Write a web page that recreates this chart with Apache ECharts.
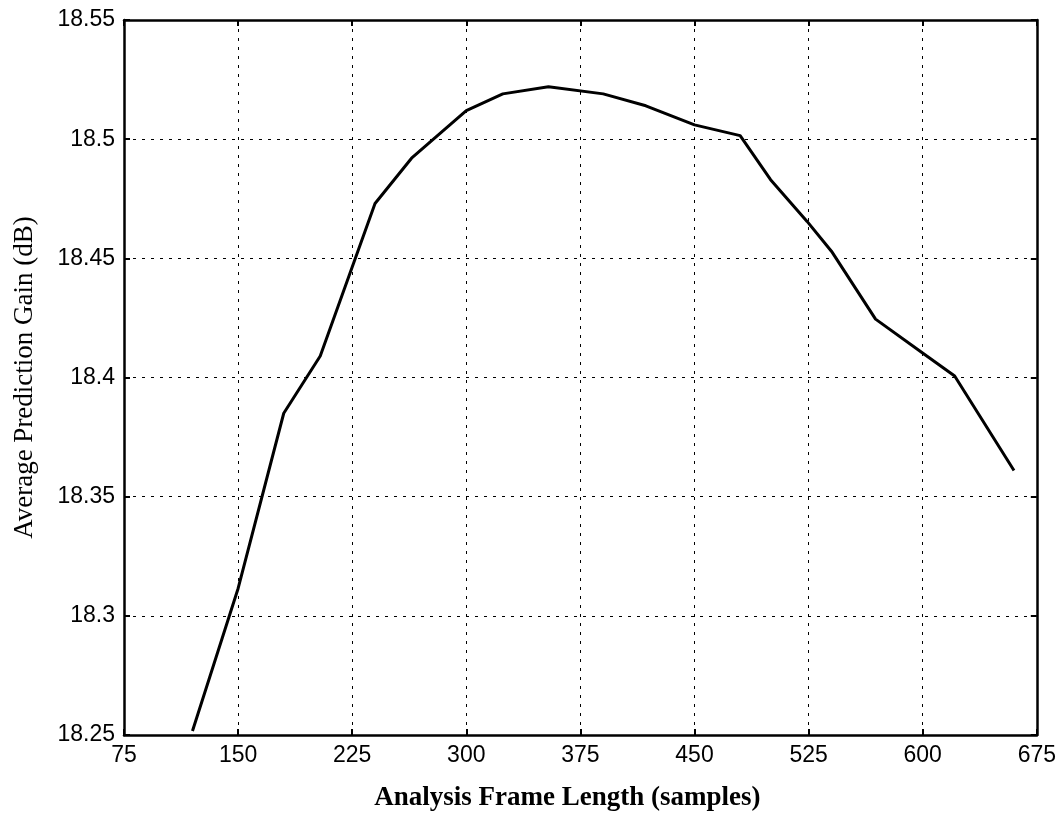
<!DOCTYPE html>
<html>
<head>
<meta charset="utf-8">
<script src="https://cdn.jsdelivr.net/npm/echarts@6/dist/echarts.min.js"></script>
<style>
  html, body { margin: 0; padding: 0; background: #fff; }
  #chart { width: 1059px; height: 817px; }
</style>
</head>
<body>
<div id="chart"></div>
<script>
// Analysis frame length (samples) and the resulting average prediction gain (dB)
const frameLengths = [120, 150, 180, 204, 240, 264, 300, 324, 354, 390, 418, 450, 480, 500, 524, 540, 569, 599, 621, 660];
const predictionGain = [18.2517, 18.3115, 18.385, 18.409, 18.473, 18.492, 18.512, 18.519, 18.522, 18.519, 18.514, 18.506, 18.5015, 18.483, 18.4655, 18.453, 18.4245, 18.4107, 18.4006, 18.361];

// Axis tick labels
const xTickLabels = ['75', '150', '225', '300', '375', '450', '525', '600', '675'];
const yTickLabels = ['18.25', '18.3', '18.35', '18.4', '18.45', '18.5', '18.55'];

const xTitle = 'Analysis Frame Length (samples)';
const yTitle = 'Average Prediction Gain (dB)';

const chart = echarts.init(document.getElementById('chart'), null, { renderer: 'canvas' });

const tickFont = { color: '#000', fontFamily: 'Liberation Sans, Arial, sans-serif', fontSize: 23 };
const gridLine = { show: true, lineStyle: { color: '#000', width: 1, type: [3, 6] } };
const frameLine = { show: true, onZero: false, lineStyle: { color: '#000', width: 2.5 } };
const innerTick = { show: true, inside: true, length: 6, lineStyle: { color: '#000', width: 2 } };

function xLabel(v) {
  const i = Math.round((v - 75) / 75);
  return xTickLabels[i] !== undefined ? xTickLabels[i] : '';
}
function yLabel(v) {
  const i = Math.round((v - 18.25) / 0.05);
  return yTickLabels[i] !== undefined ? yTickLabels[i] : '';
}

chart.setOption({
  backgroundColor: '#fff',
  animation: false,
  grid: { left: 124, right: 20, top: 20, bottom: 80, containLabel: false },
  xAxis: [
    {
      type: 'value', position: 'bottom', min: 75, max: 675, interval: 75,
      axisLine: frameLine, axisTick: innerTick, splitLine: gridLine,
      axisLabel: { ...tickFont, margin: 9, formatter: xLabel },
      name: xTitle, nameLocation: 'middle', nameGap: 50,
      nameTextStyle: { color: '#000', fontFamily: 'Liberation Serif, Times New Roman, serif', fontSize: 27, fontWeight: 'bold', padding: [0, 26, 0, 0] }
    },
    {
      type: 'value', position: 'top', min: 75, max: 675, interval: 75,
      axisLine: frameLine, axisTick: innerTick, splitLine: { show: false },
      axisLabel: { show: false }
    }
  ],
  yAxis: [
    {
      type: 'value', position: 'left', min: 18.25, max: 18.55, interval: 0.05,
      axisLine: frameLine, axisTick: innerTick, splitLine: gridLine,
      axisLabel: { ...tickFont, margin: 9, formatter: yLabel },
      name: yTitle, nameLocation: 'middle', nameGap: 86,
      nameTextStyle: { color: '#000', fontFamily: 'Liberation Serif, Times New Roman, serif', fontSize: 27 }
    },
    {
      type: 'value', position: 'right', min: 18.25, max: 18.55, interval: 0.05,
      axisLine: frameLine, axisTick: innerTick, splitLine: { show: false },
      axisLabel: { show: false }
    }
  ],
  series: [
    {
      type: 'line',
      xAxisIndex: 0, yAxisIndex: 0,
      data: frameLengths.map((x, i) => [x, predictionGain[i]]),
      showSymbol: false,
      symbol: 'none',
      lineStyle: { color: '#000', width: 3, join: 'round' },
      z: 5
    }
  ]
});
</script>
</body>
</html>
